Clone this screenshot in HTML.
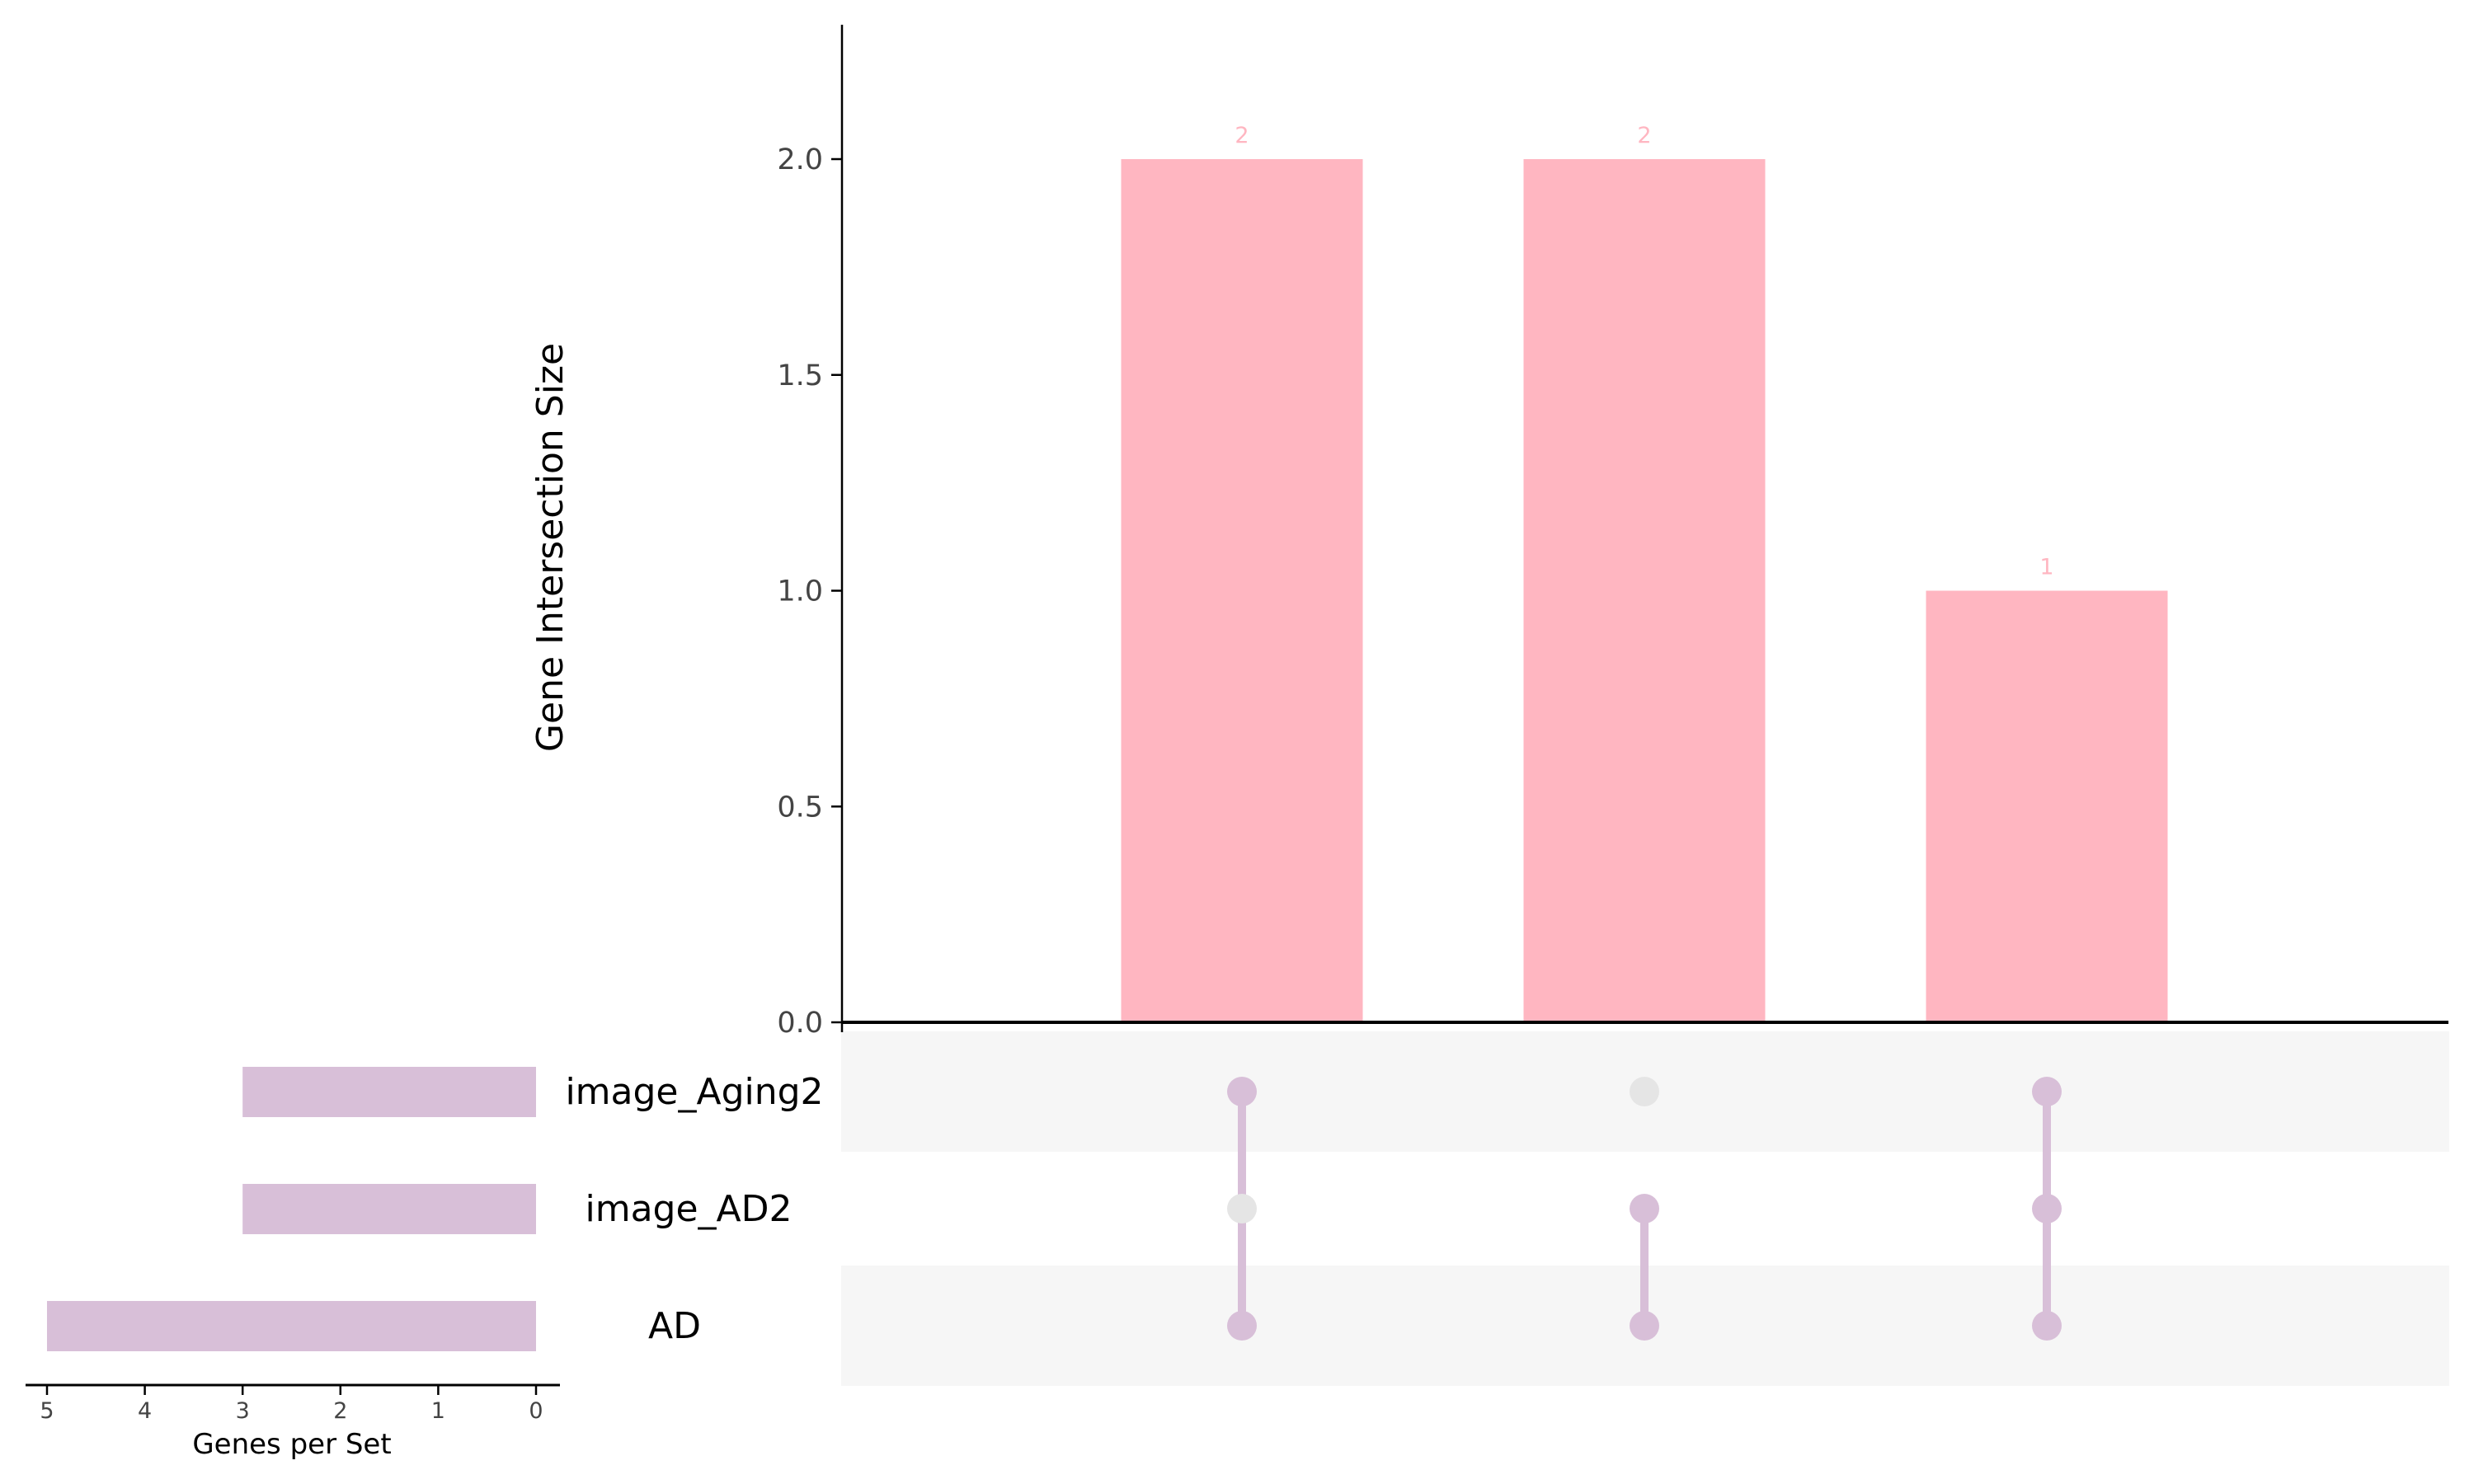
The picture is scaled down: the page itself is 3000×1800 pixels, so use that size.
<!DOCTYPE html>
<html><head><meta charset="utf-8"><style>
html,body{margin:0;padding:0;background:#fff}
svg{display:block;font-family:"DejaVu Sans","Liberation Sans",sans-serif}
</style></head><body>
<svg id="c" width="3000" height="1800" viewBox="0 0 3000 1800"></svg>
<script>
const intersections = ["AD&Aging2","AD&AD2","AD&AD2&Aging2"];
const counts = [2, 2, 1];
const sets = ["image_Aging2","image_AD2","AD"];
const setSizes = [3, 3, 5];
const membership = [[1,0,1],[0,1,1],[1,1,1]];
const yTicks = [0, 0.5, 1.0, 1.5, 2.0];
const xTicks = [5, 4, 3, 2, 1, 0];

const NS="http://www.w3.org/2000/svg", svg=document.getElementById('c');
function mk(t,a,p){const e=document.createElementNS(NS,t);for(const k in a)e.setAttribute(k,a[k]);(p||svg).appendChild(e);return e;}
const y0=1240, yUnit=523.5, ay=v=>y0-v*yUnit;
const ax=i=>1506+i*488, barW=293;
const rowY=j=>1324+j*142;
const sx=v=>650-v*118.6;
const labelCx=[842,835,818];

[0,2].forEach(j=>{const b=mk('rect',{x:1020,y:rowY(j)-73,width:1950,height:146,fill:'#f6f6f6'});

});

counts.forEach((v,i)=>{
 const r=mk('rect',{x:ax(i)-barW/2,y:ay(v),width:barW,height:y0-ay(v),fill:'#ffb6c1'});
 
 
 const t=mk('text',{x:ax(i),y:ay(v)-20,'text-anchor':'middle','font-size':27,fill:'#ffb6c1'});t.textContent=v;
 
 
});
const yl=mk('line',{x1:1021,y1:30,x2:1021,y2:1252,stroke:'#000','stroke-width':2.5});


const xl=mk('line',{x1:1020,y1:y0,x2:2969,y2:y0,stroke:'#000','stroke-width':4});


yTicks.forEach(v=>{
 mk('line',{x1:1008,y1:ay(v),x2:1021,y2:ay(v),stroke:'#000','stroke-width':2.5});
 const t=mk('text',{x:998,y:ay(v)+12,'text-anchor':'end','font-size':35,fill:'#444'});t.textContent=v.toFixed(1);
 
 
});
const yt=mk('text',{x:0,y:0,transform:'translate(682,664) rotate(-90)','text-anchor':'middle','font-size':44,fill:'#000'});
yt.textContent='Gene Intersection Size';



membership.forEach((m,i)=>{
 const act=m.map((a,j)=>a?j:-1).filter(j=>j>=0);
 if(act.length>1){const l=mk('line',{x1:ax(i),y1:rowY(Math.min(...act)),x2:ax(i),y2:rowY(Math.max(...act)),stroke:'#d8bfd8','stroke-width':10});
 
 }
 m.forEach((a,j)=>{const c=mk('circle',{cx:ax(i),cy:rowY(j),r:18,fill:a?'#d8bfd8':'#e5e5e5'});
 
 });
});

sets.forEach((s,j)=>{
 const r=mk('rect',{x:sx(setSizes[j]),y:rowY(j)-30,width:650-sx(setSizes[j]),height:61,fill:'#d8bfd8'});
 
 
 const t=mk('text',{x:labelCx[j],y:rowY(j)+15,'text-anchor':'middle','font-size':44,fill:'#000'});t.textContent=s;
 
 
});
const bl=mk('line',{x1:31,y1:1680,x2:679,y2:1680,stroke:'#000','stroke-width':3});


xTicks.forEach(v=>{
 mk('line',{x1:sx(v),y1:1680,x2:sx(v),y2:1692,stroke:'#000','stroke-width':2.5});
 const t=mk('text',{x:sx(v),y:1720,'text-anchor':'middle','font-size':27,fill:'#444'});t.textContent=v;
 
 
});
const st=mk('text',{x:354,y:1763,'text-anchor':'middle','font-size':34,fill:'#000'});st.textContent='Genes per Set';


</script>
</body></html>
